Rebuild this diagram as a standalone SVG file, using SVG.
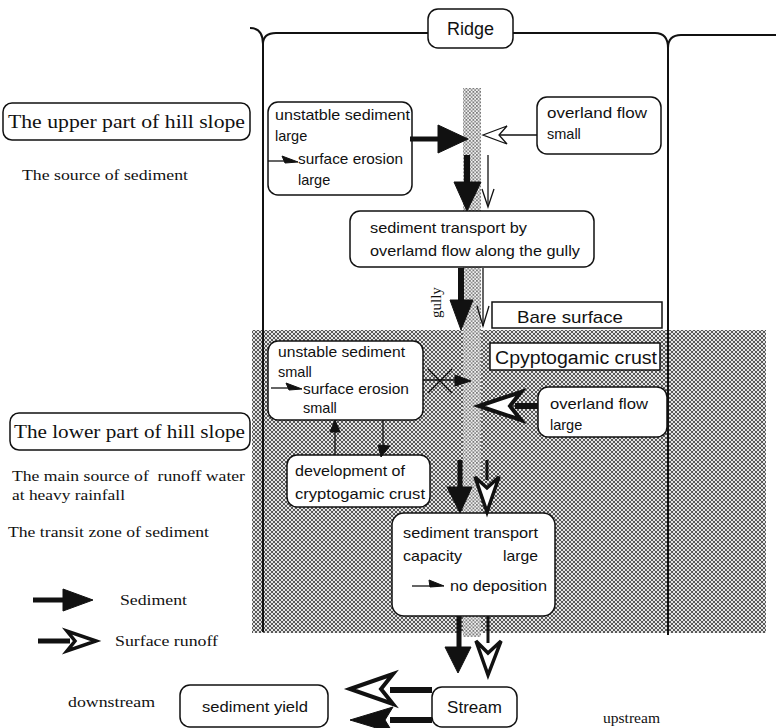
<svg xmlns="http://www.w3.org/2000/svg" width="776" height="728" viewBox="0 0 776 728">
<defs>
  <pattern id="hatch" width="4" height="4" patternUnits="userSpaceOnUse">
    <rect width="4" height="4" fill="#e4e4e4"/>
    <path d="M0,0 L4,4 M4,0 L0,4" stroke="#4a4a4a" stroke-width="0.9"/>
  </pattern>
  <pattern id="dots" width="3.5" height="3.5" patternUnits="userSpaceOnUse">
    <rect width="3.5" height="3.5" fill="#f0f0f0"/>
    <circle cx="0.9" cy="0.9" r="0.8" fill="#444"/>
    <circle cx="2.65" cy="2.65" r="0.8" fill="#666"/>
  </pattern>
</defs>
<style>
  .box{fill:#fff;stroke:#111;stroke-width:1.5}
  .t{font-family:"Liberation Serif",serif;fill:#111}
  .s{font-family:"Liberation Sans",sans-serif;fill:#111}
  .ln{stroke:#111;fill:none}
  .blk{fill:#111;stroke:#111;stroke-width:1}
  .open{fill:#fff;stroke:#111;stroke-linejoin:miter}
</style>
<rect width="776" height="728" fill="#fff"/>

<g id="zones">
  <rect x="252" y="330" width="514" height="303" fill="url(#hatch)"/>
  <rect x="463" y="88" width="18" height="549" fill="url(#dots)"/>
</g>

<g id="frame" class="ln" stroke-width="2">
  <path d="M250,28 Q263,28 263,44 L263,632"/>
  <path d="M263,44 Q263,33 276,33 L428,33"/>
  <path d="M513,33 L655,33 Q668,33 668,48 L668,635"/>
  <path d="M668,48 Q668,35 681,35 L776,35"/>
</g>

<g id="ridge">
  <rect class="box" x="428" y="9" width="85" height="39" rx="10"/>
  <text class="s" x="470.5" y="35" font-size="18" text-anchor="middle">Ridge</text>
</g>

<g id="upper-part">
  <rect class="box" x="3" y="103" width="247" height="37" rx="9"/>
  <text class="t" x="8" y="128" font-size="19" textLength="237" lengthAdjust="spacingAndGlyphs">The upper part of hill slope</text>
</g>
<g id="source-text">
  <text class="t" x="22" y="180" font-size="15" textLength="166" lengthAdjust="spacingAndGlyphs">The source of sediment</text>
</g>

<g id="unstable-upper">
  <rect class="box" x="268" y="102" width="144" height="93" rx="10"/>
  <text class="s" x="275" y="120" font-size="14.5" textLength="135" lengthAdjust="spacingAndGlyphs">unstatble sediment</text>
  <text class="s" x="275" y="141" font-size="14.5">large</text>
  <text class="s" x="298" y="164" font-size="14.5" textLength="105" lengthAdjust="spacingAndGlyphs">surface erosion</text>
  <text class="s" x="298" y="185" font-size="14.5">large</text>
  <path class="ln" stroke-width="1.3" d="M268,161 L292,161"/>
  <polygon class="blk" points="282,156 298,162 285,163"/>
</g>

<g id="overland-small">
  <rect class="box" x="537" y="97" width="124" height="57" rx="10"/>
  <text class="s" x="547" y="118" font-size="14.5" textLength="100" lengthAdjust="spacingAndGlyphs">overland flow</text>
  <text class="s" x="547" y="139" font-size="14.5">small</text>
</g>

<g id="transport-gully">
  <rect class="box" x="350" y="211" width="244" height="56" rx="10"/>
  <text class="s" x="370" y="233" font-size="15" textLength="157" lengthAdjust="spacingAndGlyphs">sediment transport by</text>
  <text class="s" x="370" y="256" font-size="15" textLength="210" lengthAdjust="spacingAndGlyphs">overlamd flow along the gully</text>
</g>

<g id="gully-label">
  <text class="t" transform="translate(441,318) rotate(-90)" font-size="15">gully</text>
</g>

<g id="bare-surface">
  <rect class="box" x="492" y="302" width="170" height="26"/>
  <text class="s" x="517" y="323" font-size="17" textLength="106" lengthAdjust="spacingAndGlyphs">Bare surface</text>
</g>

<g id="crust-label">
  <rect class="box" x="490" y="343" width="170" height="27"/>
  <text class="s" x="495" y="364" font-size="18" textLength="162" lengthAdjust="spacingAndGlyphs">Cpyptogamic crust</text>
</g>

<g id="unstable-lower">
  <rect class="box" x="268" y="341" width="155" height="79" rx="10"/>
  <text class="s" x="278" y="357" font-size="14.5" textLength="127" lengthAdjust="spacingAndGlyphs">unstable sediment</text>
  <text class="s" x="278" y="377" font-size="14.5">small</text>
  <text class="s" x="303" y="394" font-size="14.5" textLength="106" lengthAdjust="spacingAndGlyphs">surface erosion</text>
  <text class="s" x="303" y="413" font-size="14.5">small</text>
  <path class="ln" stroke-width="1.3" d="M271,388 L295,388"/>
  <polygon class="blk" points="286,383 302,389 289,390"/>
</g>

<g id="overland-large">
  <rect class="box" x="538" y="387" width="129" height="50" rx="10"/>
  <text class="s" x="550" y="409" font-size="14.5" textLength="98" lengthAdjust="spacingAndGlyphs">overland flow</text>
  <text class="s" x="550" y="430" font-size="14.5">large</text>
</g>

<g id="lower-part">
  <rect class="box" x="10" y="413" width="240" height="37" rx="9"/>
  <text class="t" x="14" y="438" font-size="19" textLength="231" lengthAdjust="spacingAndGlyphs">The lower part of hill slope</text>
</g>
<g id="lower-notes">
  <text class="t" x="12" y="481" font-size="15" textLength="233" lengthAdjust="spacingAndGlyphs" xml:space="preserve">The main source of  runoff water</text>
  <text class="t" x="12" y="500" font-size="15" textLength="113" lengthAdjust="spacingAndGlyphs">at heavy rainfall</text>
  <text class="t" x="8" y="537" font-size="15" textLength="201" lengthAdjust="spacingAndGlyphs">The transit zone of sediment</text>
</g>

<g id="development">
  <rect class="box" x="287" y="455" width="143" height="52" rx="10"/>
  <text class="s" x="295" y="476" font-size="14.5" textLength="110" lengthAdjust="spacingAndGlyphs">development of</text>
  <text class="s" x="295" y="499" font-size="14.5" textLength="130" lengthAdjust="spacingAndGlyphs">cryptogamic crust</text>
</g>

<g id="transport-capacity">
  <rect class="box" x="392" y="513" width="163" height="103" rx="12"/>
  <text class="s" x="403" y="538" font-size="15" textLength="135" lengthAdjust="spacingAndGlyphs">sediment transport</text>
  <text class="s" x="403" y="561" font-size="15" textLength="59" lengthAdjust="spacingAndGlyphs">capacity</text>
  <text class="s" x="503" y="561" font-size="15" textLength="35" lengthAdjust="spacingAndGlyphs">large</text>
  <path class="ln" stroke-width="1.3" d="M412,586 L438,586"/>
  <polygon class="blk" points="429,580 444,586 430,587"/>
  <text class="s" x="450" y="591" font-size="15" textLength="97" lengthAdjust="spacingAndGlyphs">no deposition</text>
</g>

<g id="legend">
  <path class="ln" stroke-width="5" d="M33,600 L66,600"/>
  <polygon class="blk" points="63,589 93,600 63,611"/>
  <text class="t" x="120" y="605" font-size="15" textLength="67" lengthAdjust="spacingAndGlyphs">Sediment</text>
  <path class="ln" stroke-width="5" d="M38,641 L70,641"/>
  <polygon class="open" stroke-width="3.5" points="96,641 67,631 75,641 67,651"/>
  <text class="t" x="115" y="646" font-size="15" textLength="103" lengthAdjust="spacingAndGlyphs">Surface runoff</text>
</g>

<g id="downstream">
  <text class="t" x="68" y="707" font-size="15" textLength="87" lengthAdjust="spacingAndGlyphs">downstream</text>
</g>
<g id="upstream">
  <text class="t" x="603" y="723" font-size="15" textLength="57" lengthAdjust="spacingAndGlyphs">upstream</text>
</g>

<g id="sediment-yield">
  <rect class="box" x="180" y="685" width="148" height="42" rx="10"/>
  <text class="s" x="202" y="712" font-size="15" textLength="106" lengthAdjust="spacingAndGlyphs">sediment yield</text>
</g>

<g id="stream">
  <rect class="box" x="432" y="687" width="85" height="40" rx="10"/>
  <text class="s" x="474.5" y="713" font-size="17" text-anchor="middle">Stream</text>
</g>

<g id="connectors">
  <path class="ln" stroke-width="5" d="M410,139 L442,139"/>
  <polygon class="blk" points="438,125 468,139 438,153"/>
  <path class="ln" stroke-width="1.3" d="M537,135 L499,135"/>
  <polygon class="open" stroke-width="1.3" points="483,135 507,126 499,135 507,144"/>
  <path class="ln" stroke-width="6" d="M467,155 L467,185"/>
  <polygon class="blk" points="454,182 481,182 467,211"/>
  <path class="ln" stroke-width="1.3" d="M488,155 L488,206"/>
  <path class="ln" stroke-width="1.3" d="M482,189 L488,207 L494,189"/>
  <path class="ln" stroke-width="6" d="M461,268 L461,302"/>
  <polygon class="blk" points="450,300 473,300 461,330"/>
  <path class="ln" stroke-width="1.3" d="M483,268 L483,326"/>
  <path class="ln" stroke-width="1.3" d="M477,306 L483,326 L489,306"/>
  <path class="ln" stroke-width="1.3" d="M423,380 L458,380"/>
  <polygon class="blk" points="455,375 471,381 455,386"/>
  <path class="ln" stroke-width="1.3" d="M428,369 L452,393 M428,393 L452,369"/>
  <path class="ln" stroke-width="6" d="M538,406 L515,406"/>
  <polygon class="open" stroke-width="4" points="479,406 521,392 510,406 521,420"/>
  <path class="ln" stroke-width="1.3" d="M335,455 L335,428"/>
  <polygon class="blk" points="330,432 335,420 340,432"/>
  <path class="ln" stroke-width="1.3" d="M383,420 L383,450"/>
  <polygon class="blk" points="378,445 381,457 390,446"/>
  <path class="ln" stroke-width="5" d="M460,460 L460,489"/>
  <polygon class="blk" points="447,487 472,487 460,513"/>
  <path class="ln" stroke-width="3" d="M487,460 L487,480"/>
  <polygon class="open" stroke-width="3.5" points="487,512 475,477 487,488 499,477"/>
  <path class="ln" stroke-width="5" d="M459,616 L459,649"/>
  <polygon class="blk" points="445,647 471,647 458,673"/>
  <path class="ln" stroke-width="3" d="M488,616 L488,643"/>
  <polygon class="open" stroke-width="3.5" points="488,675 476,641 488,653 501,641"/>
  <path class="ln" stroke-width="6" d="M432,690 L390,690"/>
  <polygon class="open" stroke-width="4" points="350,689 393,674 381,689 393,704"/>
  <path class="ln" stroke-width="6" d="M432,720 L390,720"/>
  <polygon class="blk" points="350,720 393,707 385,720 393,733"/>
</g>
</svg>
